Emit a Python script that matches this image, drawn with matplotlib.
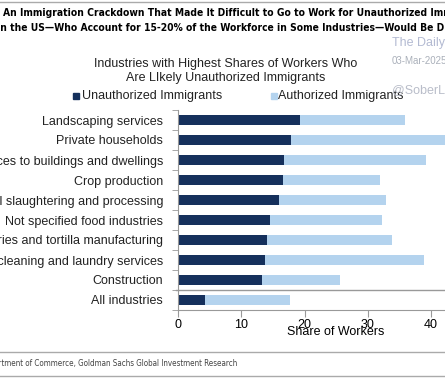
import matplotlib.pyplot as plt
from matplotlib.patches import Rectangle

plt.rcParams['font.family'] = ['Liberation Sans', 'DejaVu Sans']

# data (share of workers, %)
industries = ['Landscaping services', 'Private households',
              'Services to buildings and dwellings', 'Crop production',
              'Animal slaughtering and processing', 'Not specified food industries',
              'Bakeries and tortilla manufacturing', 'Drycleaning and laundry services',
              'Construction', 'All industries']
unauthorized = [19.3, 17.8, 16.8, 16.6, 16.0, 14.5, 14.1, 13.7, 13.3, 4.3]
authorized = [16.6, 26.2, 22.5, 15.4, 16.9, 17.8, 19.7, 25.3, 12.4, 13.4]

dark = '#15305c'
light = '#b4d3ee'
W, H = 445, 385

fig = plt.figure(figsize=(4.45, 3.85), dpi=100)
ax = fig.add_axes([178.3 / W, 75 / H, (W - 178.3) / W, 200 / H])

ypos = list(range(len(industries)))
ax.barh(ypos, unauthorized, height=0.5, color=dark, label='Unauthorized Immigrants')
ax.barh(ypos, authorized, left=unauthorized, height=0.5, color=light,
        label='Authorized Immigrants')

ax.set_xlim(0, (W - 178.3) / 6.31)
ax.set_ylim(len(industries) - 0.5, -0.5)

# labels at bar centres, tick marks at row boundaries
ax.set_yticks(ypos)
ax.set_yticklabels(industries, fontsize=9, color='#222222')
ax.tick_params(axis='y', length=0, pad=11)
ax.set_yticks([i - 0.5 for i in range(len(industries) + 1)], minor=True)
ax.tick_params(axis='y', which='minor', length=4, color='#999999')

ax.set_xticks([0, 10, 20, 30, 40])
ax.tick_params(axis='x', length=5, color='#999999', labelsize=9, pad=1.5)
ax.set_xlabel('Share of Workers', fontsize=9)
ax.xaxis.set_label_coords((336 - 178.3) / (W - 178.3), -0.08)

for s in ['top', 'right']:
    ax.spines[s].set_visible(False)
for s in ['left', 'bottom']:
    ax.spines[s].set_color('#999999')

# separator above "All industries"
ax.axhline(8.5, xmin=-0.007, color='#999999', lw=1, clip_on=False)

# chart title
fig.text(226 / W, 1 - 71 / H,
         'Industries with Highest Shares of Workers Who\nAre LIkely Unauthorized Immigrants',
         ha='center', va='center', fontsize=9, linespacing=1.15, color='#222222')

# legend
fig.patches.append(Rectangle((73 / W, 1 - 99 / H), 6 / W, 6 / H, color=dark,
                             transform=fig.transFigure))
fig.text(82 / W, 1 - 96 / H, 'Unauthorized Immigrants', ha='left', va='center',
         fontsize=9, color='#222222')
fig.patches.append(Rectangle((271 / W, 1 - 99 / H), 6 / W, 6 / H, color=light,
                             transform=fig.transFigure))
fig.text(278 / W, 1 - 96 / H, 'Authorized Immigrants', ha='left', va='center',
         fontsize=9, color='#222222')

# exhibit header (cropped in the original)
hdr = dict(ha='left', va='center', fontsize=7.35, fontweight='bold',
           family='DejaVu Sans', fontstretch='condensed')
fig.text(3 / W, 1 - 13 / H,
         'An Immigration Crackdown That Made It Difficult to Go to Work for Unauthorized Immigrants',
         **hdr)
fig.text(-3 / W, 1 - 28 / H,
         'in the US\u2014Who Account for 15-20% of the Workforce in Some Industries\u2014Would Be Disruptive',
         **hdr)

# rules and source
fig.add_artist(plt.Line2D([0, 1], [1 - 1.5 / H, 1 - 1.5 / H], color='#aaaaaa', lw=1))
fig.add_artist(plt.Line2D([0, 1], [1 - 352 / H, 1 - 352 / H], color='#aaaaaa', lw=1))
fig.add_artist(plt.Line2D([0, 1], [1 - 376 / H, 1 - 376 / H], color='#aaaaaa', lw=1))
fig.text(237 / W, 1 - 364 / H,
         'Source: Department of Commerce, Goldman Sachs Global Investment Research',
         ha='right', va='center', fontsize=5.8, color='#444444',
         family='DejaVu Sans', fontstretch='condensed')

# watermark
fig.text(392 / W, 1 - 43 / H, 'The Daily', fontsize=9, color='#b3bad2', va='center')
fig.text(392 / W, 1 - 61 / H, '03-Mar-2025', fontsize=7, color='#aab0ba', va='center')
fig.text(392 / W, 1 - 90 / H, '@SoberLook', fontsize=9, color='#b9bdc9', va='center')

fig.savefig('out.png', dpi=100)
